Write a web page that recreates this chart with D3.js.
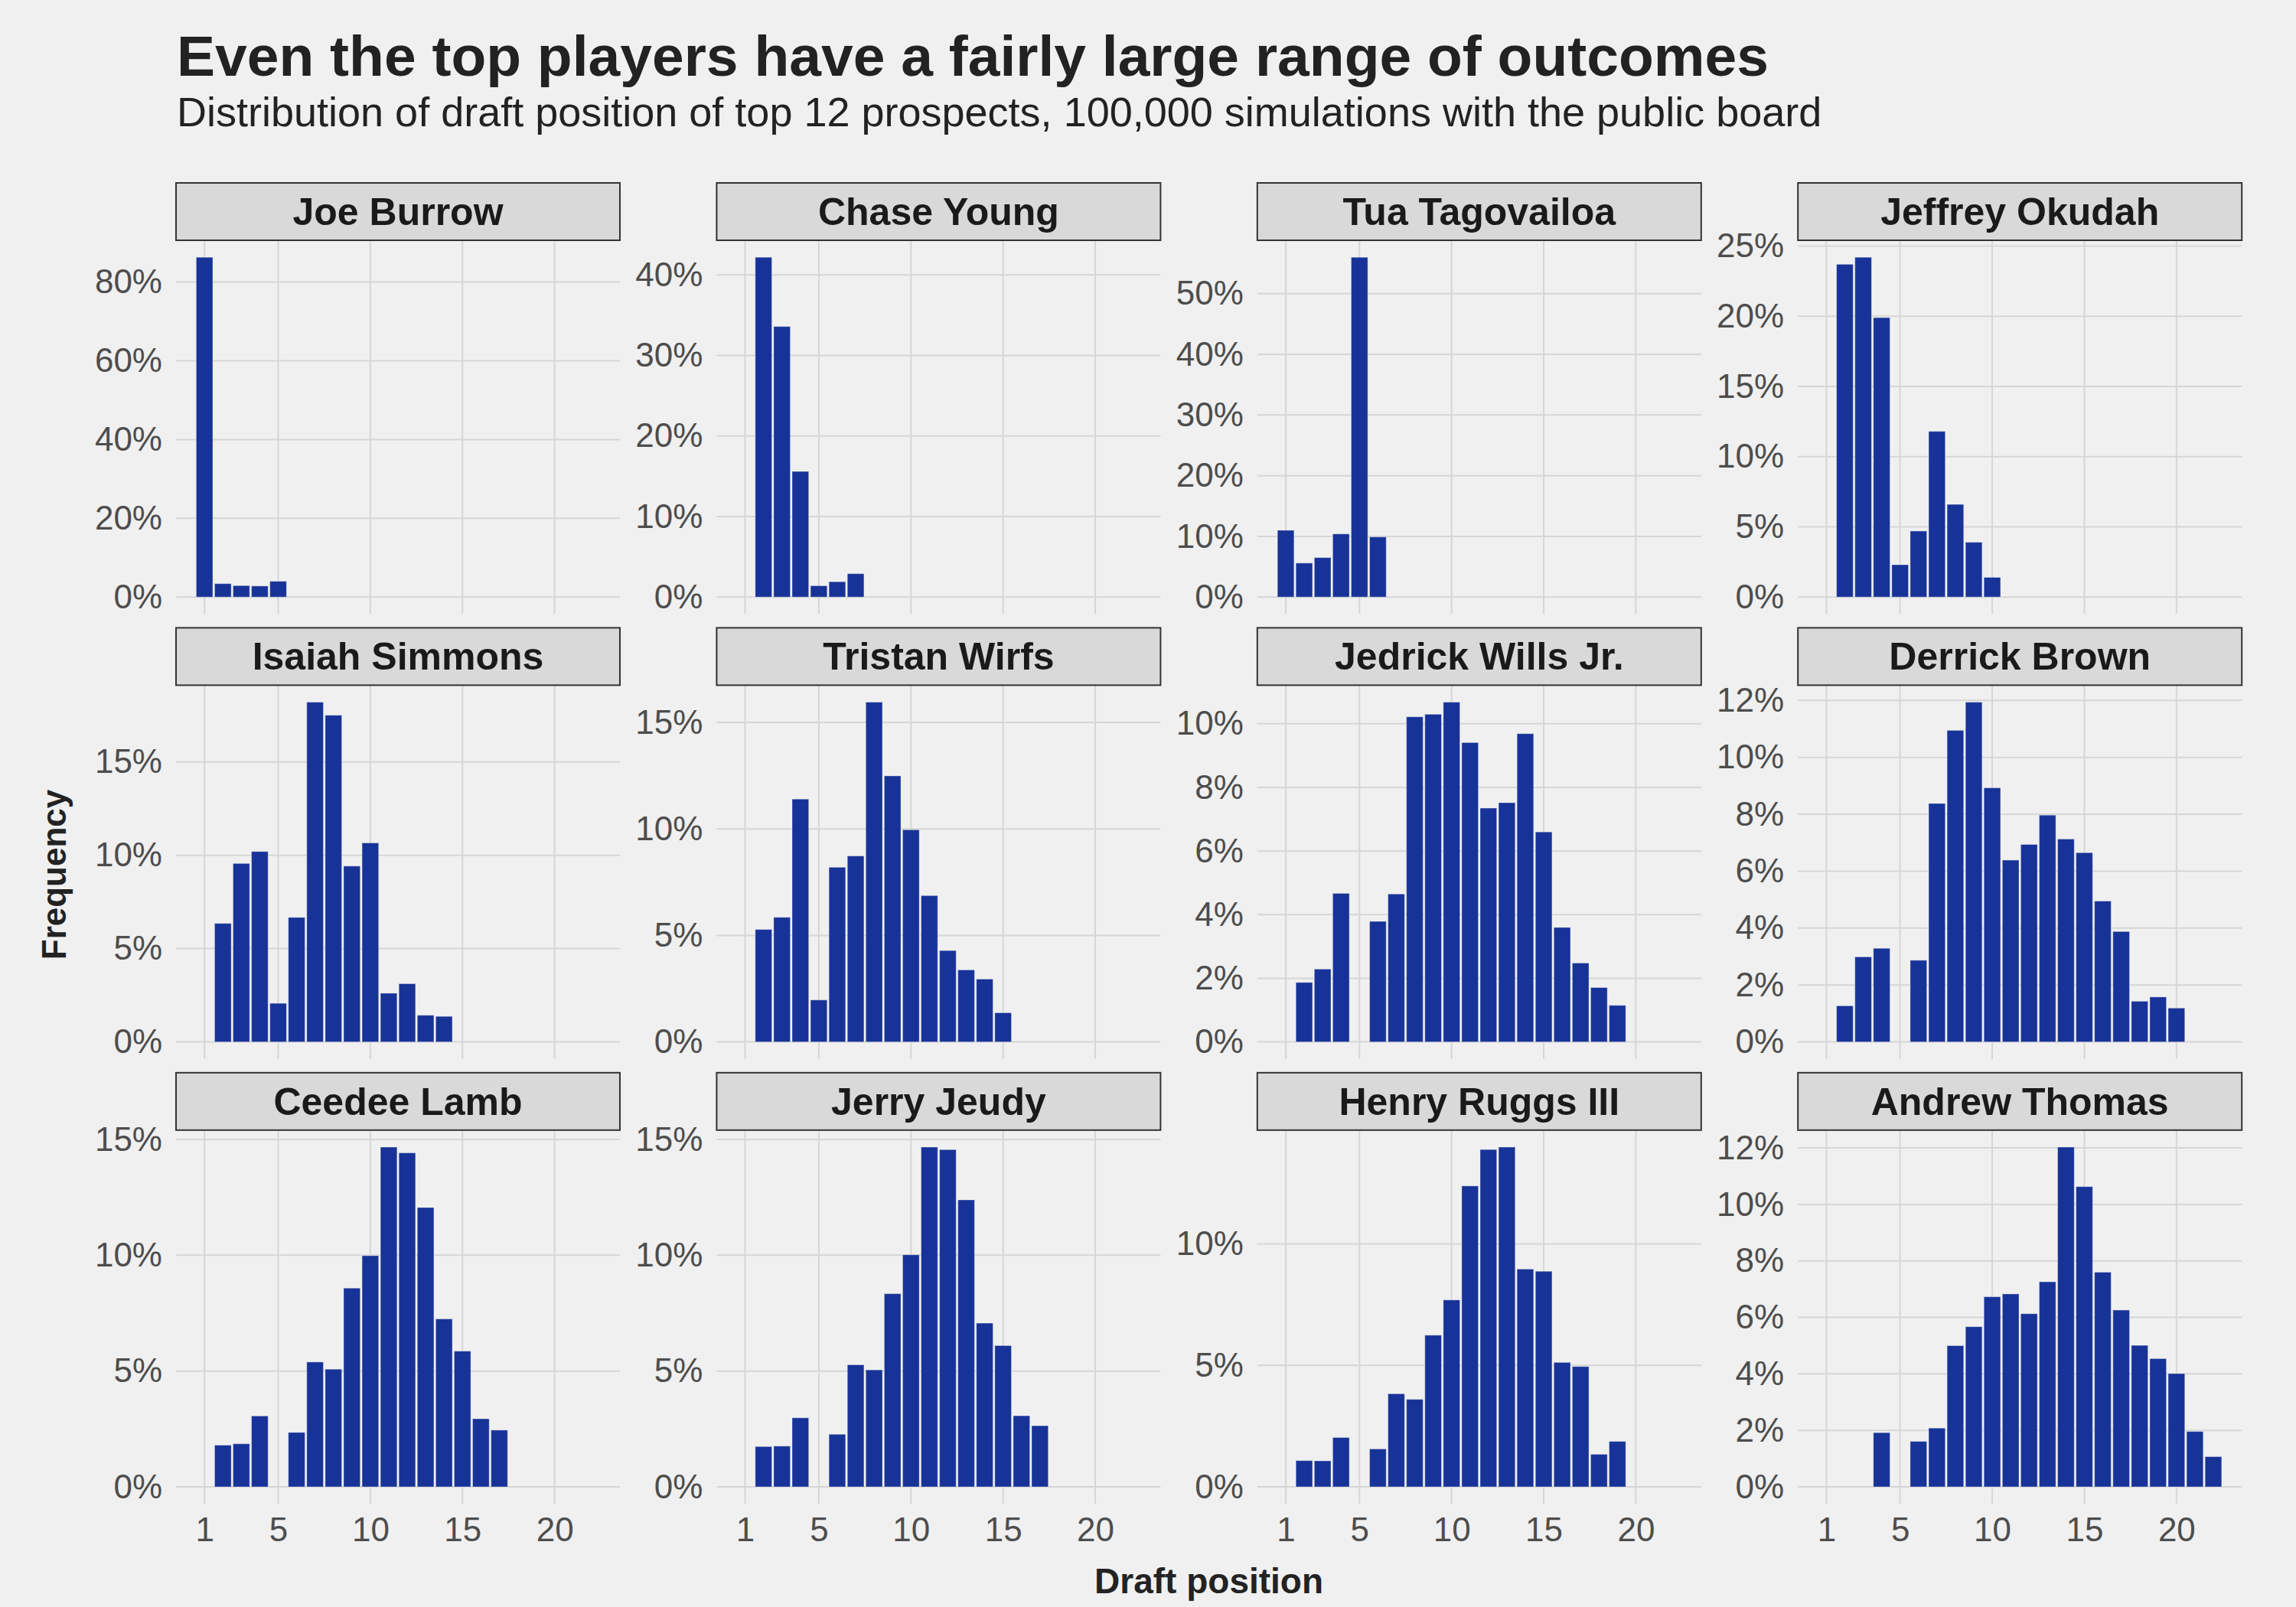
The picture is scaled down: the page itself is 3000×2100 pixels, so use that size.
<!DOCTYPE html>
<html>
<head>
<meta charset="utf-8">
<script src="https://cdn.jsdelivr.net/npm/d3@7"></script>
<style>
    body { margin: 0; background: #f0f0f0; }
    text { font-family: "Liberation Sans", Arial, sans-serif; }
</style>
</head>
<body>
<div id="chart"></div>
<script>
// share of simulations (%) by draft position, index 0 = pick 1
var players = ["Joe Burrow", "Chase Young", "Tua Tagovailoa", "Jeffrey Okudah",
    "Isaiah Simmons", "Tristan Wirfs", "Jedrick Wills Jr.", "Derrick Brown",
    "Ceedee Lamb", "Jerry Jeudy", "Henry Ruggs III", "Andrew Thomas"];

var burrow = [86.3, 3.4, 2.9, 2.8, 4.0];
var young = [0, 42.2, 33.6, 15.6, 1.4, 1.9, 2.9];
var tua = [11.0, 5.6, 6.5, 10.4, 56.0, 9.9];
var okudah = [0, 23.7, 24.2, 19.9, 2.3, 4.7, 11.8, 6.6, 3.9, 1.4];
var simmons = [0, 6.35, 9.56, 10.2, 2.07, 6.67, 18.2, 17.5, 9.42, 10.66, 2.61, 3.12, 1.43, 1.37];
var wirfs = [0, 5.28, 5.85, 11.4, 1.97, 8.2, 8.73, 15.95, 12.49, 9.96, 6.87, 4.29, 3.38, 2.95, 1.37];
var wills = [0, 1.87, 2.29, 4.67, 0, 3.79, 4.65, 10.22, 10.30, 10.68, 9.41, 7.35, 7.52, 9.69, 6.60, 3.60, 2.48, 1.71, 1.15];
var brown = [0, 1.27, 2.99, 3.29, 0, 2.87, 8.38, 10.95, 11.94, 8.93, 6.39, 6.94, 7.97, 7.13, 6.65, 4.95, 3.88, 1.43, 1.58, 1.19];
var lamb = [0, 1.80, 1.86, 3.06, 0, 2.35, 5.39, 5.08, 8.58, 9.98, 14.67, 14.42, 12.06, 7.25, 5.86, 2.94, 2.45];
var jeudy = [0, 1.74, 1.76, 2.98, 0, 2.27, 5.27, 5.05, 8.34, 10.02, 14.67, 14.56, 12.39, 7.07, 6.10, 3.07, 2.64];
var ruggs = [0, 1.08, 1.07, 2.03, 0, 1.56, 3.83, 3.60, 6.24, 7.69, 12.38, 13.88, 13.98, 8.96, 8.87, 5.12, 4.95, 1.34, 1.87];
var thomas = [0, 0, 0, 1.92, 0, 1.61, 2.08, 5.0, 5.67, 6.73, 6.83, 6.13, 7.26, 12.03, 10.63, 7.60, 6.26, 5.01, 4.54, 4.01, 1.96, 1.07];

var playerValues = [burrow, young, tua, okudah, simmons, wirfs, wills, brown, lamb, jeudy, ruggs, thomas];
var yStep = [20, 10, 10, 5, 5, 5, 2, 2, 5, 5, 5, 2];
var xTicks = [1, 5, 10, 15, 20];

var title = "Even the top players have a fairly large range of outcomes";
var subtitle = "Distribution of draft position of top 12 prospects, 100,000 simulations with the public board";

var width = 3000, height = 2100;
var panelLeft = 230, panelW = 580, colGap = 126.4;
var panelTop = 314, panelH = 488.4, rowPitch = 581.4, stripH = 75;
var barColor = "#183397";

var svg = d3.select("#chart").append("svg")
    .attr("width", width)
    .attr("height", height);

svg.append("rect")
    .attr("width", width)
    .attr("height", height)
    .attr("fill", "#f0f0f0");

svg.append("text")
    .attr("x", 231).attr("y", 99)
    .attr("font-size", 75).attr("font-weight", "bold")
    .attr("fill", "#222222")
    .text(title);

svg.append("text")
    .attr("x", 231).attr("y", 165)
    .attr("font-size", 54)
    .attr("fill", "#222222")
    .text(subtitle);

// shared x scale: bars of width 0.9 plus ggplot-like 5% expansion
var maxPos = d3.max(playerValues, function (v) {
    var last = 0;
    v.forEach(function (d, j) { if (d > 0) last = j + 1; });
    return last;
});
var lo = 1 - 0.45, hi = maxPos + 0.45, pad = (hi - lo) * 0.05;
var x = d3.scaleLinear().domain([lo - pad, hi + pad]).range([0, panelW]);

players.forEach(function (name, i) {
    var col = i % 4, row = Math.floor(i / 4);
    var values = playerValues[i];
    var maxV = d3.max(values);
    var y = d3.scaleLinear().domain([-0.05 * maxV, 1.05 * maxV]).range([panelH, 0]);
    var yTicks = d3.range(0, 1.05 * maxV + 1e-9, yStep[i]);

    var g = svg.append("g")
        .attr("transform", "translate(" + (panelLeft + col * (panelW + colGap)) + "," + (panelTop + row * rowPitch) + ")");

    // grid
    g.append("g").selectAll("line.vx")
        .data(xTicks)
        .enter().append("line")
        .attr("x1", d => x(d)).attr("x2", d => x(d))
        .attr("y1", 0).attr("y2", panelH)
        .attr("stroke", "#d6d6d6").attr("stroke-width", 2);
    g.append("g").selectAll("line.hy")
        .data(yTicks)
        .enter().append("line")
        .attr("x1", 0).attr("x2", panelW)
        .attr("y1", d => y(d)).attr("y2", d => y(d))
        .attr("stroke", "#d6d6d6").attr("stroke-width", 2);

    // bars
    var bars = values.map(function (v, j) { return {pos: j + 1, value: v}; })
        .filter(function (d) { return d.value > 0; });
    g.append("g").selectAll("rect")
        .data(bars)
        .enter().append("rect")
        .attr("x", d => x(d.pos - 0.45))
        .attr("width", x(0.9) - x(0))
        .attr("y", d => y(d.value))
        .attr("height", d => y(0) - y(d.value))
        .attr("fill", barColor)
        .attr("stroke", "#ffffff")
        .attr("stroke-opacity", 0.35)
        .attr("stroke-width", 1);

    // y axis labels
    var yAxis = d3.axisLeft(y)
        .tickValues(yTicks)
        .tickSize(0)
        .tickPadding(18)
        .tickFormat(d => d + "%");
    var ya = g.append("g").call(yAxis);
    ya.select(".domain").remove();
    ya.selectAll("text")
        .attr("font-size", 44)
        .attr("font-family", "Liberation Sans, Arial, sans-serif")
        .attr("fill", "#4d4d4d");

    // x axis labels on bottom row only
    if (row === 2) {
        var xAxis = d3.axisBottom(x)
            .tickValues(xTicks)
            .tickSize(0)
            .tickPadding(18)
            .tickFormat(d3.format("d"));
        var xa = g.append("g").attr("transform", "translate(0," + panelH + ")").call(xAxis);
        xa.select(".domain").remove();
        xa.selectAll("text")
            .attr("font-size", 44)
            .attr("font-family", "Liberation Sans, Arial, sans-serif")
            .attr("fill", "#4d4d4d");
    }

    // facet strip
    g.append("rect")
        .attr("x", 0).attr("y", -stripH)
        .attr("width", panelW).attr("height", stripH)
        .attr("fill", "#d9d9d9")
        .attr("stroke", "#333333")
        .attr("stroke-width", 2);
    g.append("text")
        .attr("x", panelW / 2).attr("y", -stripH / 2)
        .attr("dy", "0.35em")
        .attr("text-anchor", "middle")
        .attr("font-size", 50).attr("font-weight", "bold")
        .attr("fill", "#1a1a1a")
        .text(name);
});

svg.append("text")
    .attr("x", panelLeft + (4 * panelW + 3 * colGap) / 2)
    .attr("y", 2082)
    .attr("text-anchor", "middle")
    .attr("font-size", 46).attr("font-weight", "bold")
    .attr("fill", "#222222")
    .text("Draft position");

svg.append("text")
    .attr("transform", "translate(86,1143) rotate(-90)")
    .attr("text-anchor", "middle")
    .attr("font-size", 44).attr("font-weight", "bold")
    .attr("fill", "#222222")
    .text("Frequency");
</script>
</body>
</html>
